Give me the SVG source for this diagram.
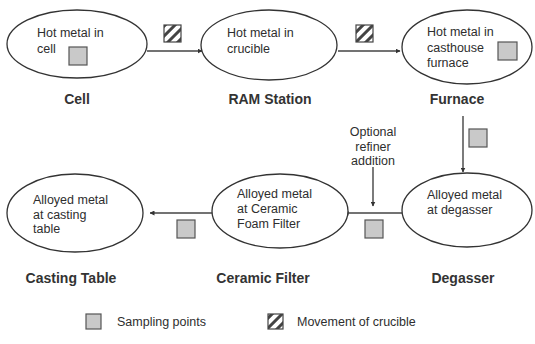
<svg xmlns="http://www.w3.org/2000/svg" width="535" height="344" viewBox="0 0 535 344">
<style>
.node{fill:#fff;stroke:#333;stroke-width:1.3}
.t{font-family:"Liberation Sans",Arial,sans-serif;font-size:12.5px;fill:#2e2e2e}
.lbl{font-family:"Liberation Sans",Arial,sans-serif;font-size:14px;font-weight:bold;fill:#333;text-anchor:middle}
.samp{fill:#c9c9c9;stroke:#555;stroke-width:1.2}
.hatch{fill:url(#hp);stroke:#444;stroke-width:1.2}
.conn{stroke:#444;stroke-width:1.4;fill:none;marker-end:url(#ah)}
</style>
<defs>
<pattern id="hp" patternUnits="userSpaceOnUse" width="7" height="7" patternTransform="rotate(45)">
<rect width="7" height="7" fill="#fff"/>
<rect width="3" height="7" fill="#444"/>
</pattern>
<marker id="ah" viewBox="0 0 10 10" refX="9" refY="5" markerWidth="5" markerHeight="5" orient="auto" markerUnits="userSpaceOnUse">
<path d="M0,0 L10,5 L0,10 z" fill="#333"/>
</marker>
</defs>
<rect width="535" height="344" fill="#fff"/>

<g id="connectors">
<line class="conn" x1="147" y1="51" x2="202" y2="51"/>
<line class="conn" x1="338" y1="51" x2="400" y2="51"/>
<line class="conn" x1="463" y1="116" x2="463" y2="172"/>
<line class="conn" x1="402" y1="213" x2="344" y2="213"/>
<line class="conn" x1="373" y1="167" x2="373" y2="206"/>
<line class="conn" x1="212" y1="213" x2="150" y2="213"/>
<rect class="hatch" x="164" y="25" width="17" height="17"/>
<rect class="hatch" x="356" y="25" width="17" height="17"/>
<rect class="samp" x="469" y="129" width="18" height="18"/>
<rect class="samp" x="365" y="220" width="18" height="18"/>
<rect class="samp" x="177" y="220" width="18" height="18"/>
<text class="t" text-anchor="middle"><tspan x="373" y="136">Optional</tspan><tspan x="373" y="151">refiner</tspan><tspan x="373" y="165">addition</tspan></text>
</g>

<g id="cell">
<ellipse class="node" cx="77" cy="44" rx="70" ry="34"/>
<text class="t"><tspan x="37" y="37">Hot metal in</tspan><tspan x="37" y="53">cell</tspan></text>
<rect class="samp" x="69" y="47" width="18" height="18"/>
<text class="lbl" x="77" y="104">Cell</text>
</g>

<g id="ram-station">
<ellipse class="node" cx="269" cy="45" rx="68" ry="35"/>
<text class="t"><tspan x="227" y="37">Hot metal in</tspan><tspan x="227" y="53">crucible</tspan></text>
<text class="lbl" x="270" y="104">RAM Station</text>
</g>

<g id="furnace">
<ellipse class="node" cx="467" cy="47" rx="65" ry="37"/>
<text class="t"><tspan x="427" y="36">Hot metal in</tspan><tspan x="427" y="52">casthouse</tspan><tspan x="427" y="67">furnace</tspan></text>
<rect class="samp" x="498" y="42" width="19" height="18"/>
<text class="lbl" x="457" y="104">Furnace</text>
</g>

<g id="degasser">
<ellipse class="node" cx="467" cy="210" rx="65" ry="37"/>
<text class="t"><tspan x="427" y="199">Alloyed metal</tspan><tspan x="427" y="214">at degasser</tspan></text>
<text class="lbl" x="463" y="283">Degasser</text>
</g>

<g id="ceramic-filter">
<ellipse class="node" cx="280" cy="211" rx="68" ry="37"/>
<text class="t"><tspan x="237" y="198">Alloyed metal</tspan><tspan x="237" y="213">at Ceramic</tspan><tspan x="237" y="228">Foam Filter</tspan></text>
<text class="lbl" x="263" y="283">Ceramic Filter</text>
</g>

<g id="casting-table">
<ellipse class="node" cx="75" cy="213" rx="68" ry="39"/>
<text class="t"><tspan x="33" y="204">Alloyed metal</tspan><tspan x="33" y="219">at casting</tspan><tspan x="33" y="233">table</tspan></text>
<text class="lbl" x="71" y="283">Casting Table</text>
</g>

<g id="legend">
<rect class="samp" x="86" y="314" width="15" height="15"/>
<text class="t" x="117" y="326">Sampling points</text>
<rect class="hatch" x="268" y="314" width="15" height="15"/>
<text class="t" x="297" y="326">Movement of crucible</text>
</g>
</svg>
